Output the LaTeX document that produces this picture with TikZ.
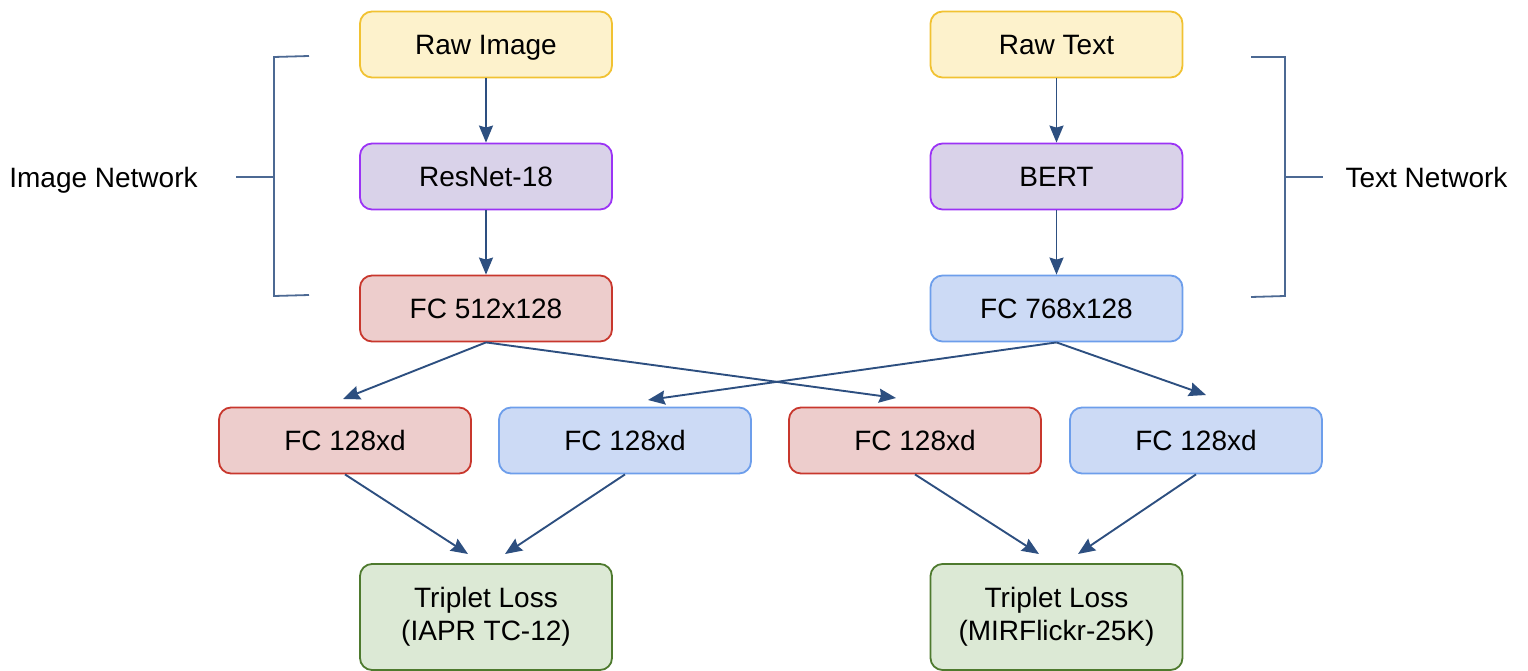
\documentclass[tikz,border=0pt]{standalone}
\usepackage{fontspec}
\setmainfont{Liberation Sans}
\usetikzlibrary{arrows.meta,calc}
\definecolor{arrowblue}{HTML}{2D4F80}
\definecolor{yfill}{HTML}{FDF2CC}\definecolor{ydraw}{HTML}{F1C232}
\definecolor{pfill}{HTML}{D9D2E9}\definecolor{pdraw}{HTML}{9B33F5}
\definecolor{rfill}{HTML}{EDCDCC}\definecolor{rdraw}{HTML}{C8372D}
\definecolor{bfill}{HTML}{CCDAF5}\definecolor{bdraw}{HTML}{6D9EEB}
\definecolor{gfill}{HTML}{DCE9D5}\definecolor{gdraw}{HTML}{4E7A2E}
\tikzset{
  boxbase/.style={rectangle, rounded corners=12pt, minimum width=252pt, minimum height=66pt,
    line width=1.8pt, inner sep=0pt, align=center, font=\fontsize{28}{33}\selectfont},
  box/.style={boxbase, text height=19.8pt, text depth=0pt},
  ybox/.style={box, fill=yfill, draw=ydraw},
  pbox/.style={box, fill=pfill, draw=pdraw},
  rbox/.style={box, fill=rfill, draw=rdraw},
  bbox/.style={box, fill=bfill, draw=bdraw},
  gbox/.style={boxbase, fill=gfill, draw=gdraw, minimum height=106pt},
  conn/.style={draw=arrowblue, line width=1.9pt, -{Stealth[length=17pt,width=14pt,inset=2pt]}},
  brack/.style={draw=arrowblue!85!white, line width=1.8pt},
  lbl/.style={font=\fontsize{28}{33}\selectfont, inner sep=0pt, text height=19.8pt, text depth=0pt}
}
\begin{document}
\begin{tikzpicture}[x=1pt,y=-1pt]
\useasboundingbox (0,0) rectangle (1528,671);
% top chain
\node[ybox] (rawimg) at (486,44.5) {Raw Image};
\node[pbox] (resnet) at (486,176.5) {ResNet-18};
\node[rbox] (fcimg) at (486,308.5) {FC 512x128};
\node[ybox] (rawtxt) at (1056.5,44.5) {Raw Text};
\node[pbox] (bert) at (1056.5,176.5) {BERT};
\node[bbox] (fctxt) at (1056.5,308.5) {FC 768x128};
% fc row
\node[rbox] (f1) at (345,440.5) {FC 128xd};
\node[bbox] (f2) at (625,440.5) {FC 128xd};
\node[rbox] (f3) at (915,440.5) {FC 128xd};
\node[bbox] (f4) at (1196,440.5) {FC 128xd};
% losses
\node[gbox] (l1) at (486,617) {Triplet Loss\\(IAPR TC-12)};
\node[gbox] (l2) at (1056.5,617) {Triplet Loss\\(MIRFlickr-25K)};
% arrow end points
\coordinate (t1) at (343,399);
\coordinate (t2) at (648,400);
\coordinate (t3) at (896,398);
\coordinate (t4) at (1206,395);
\coordinate (u1) at (468,554);
\coordinate (u2) at (505,554);
\coordinate (u3) at (1039,554);
\coordinate (u4) at (1078,554);
% connectors
\draw[conn] (rawimg) -- (resnet);
\draw[conn] (resnet) -- (fcimg);
\draw[conn] (rawtxt) -- (bert);
\draw[conn] (bert) -- (fctxt);
\draw[conn] (fcimg.south) -- (t1);
\draw[conn] (fcimg.south) -- (t3);
\draw[conn] (fctxt.south) -- (t2);
\draw[conn] (fctxt.south) -- (t4);
\draw[conn] (f1.south) -- (u1);
\draw[conn] (f2.south) -- (u2);
\draw[conn] (f3.south) -- (u3);
\draw[conn] (f4.south) -- (u4);
% brackets
\coordinate (lb1) at (309,56);
\coordinate (lb2) at (274,57);
\coordinate (lb3) at (274,296);
\coordinate (lb4) at (309,295);
\coordinate (lbm) at (274,177);
\coordinate (lbt) at (236,177);
\draw[brack] (lb1) -- (lb2) -- (lb3) -- (lb4);
\draw[brack] (lbt) -- (lbm);
\coordinate (rb1) at (1251,57);
\coordinate (rb2) at (1285,57);
\coordinate (rb3) at (1285,296);
\coordinate (rb4) at (1251,297);
\coordinate (rbm) at (1285,177);
\coordinate (rbt) at (1323,177);
\draw[brack] (rb1) -- (rb2) -- (rb3) -- (rb4);
\draw[brack] (rbm) -- (rbt);
\node[lbl] (imgnet) at (103.5,178) {Image Network};
\node[lbl] (txtnet) at (1426.5,178) {Text Network};
\end{tikzpicture}
\end{document}
